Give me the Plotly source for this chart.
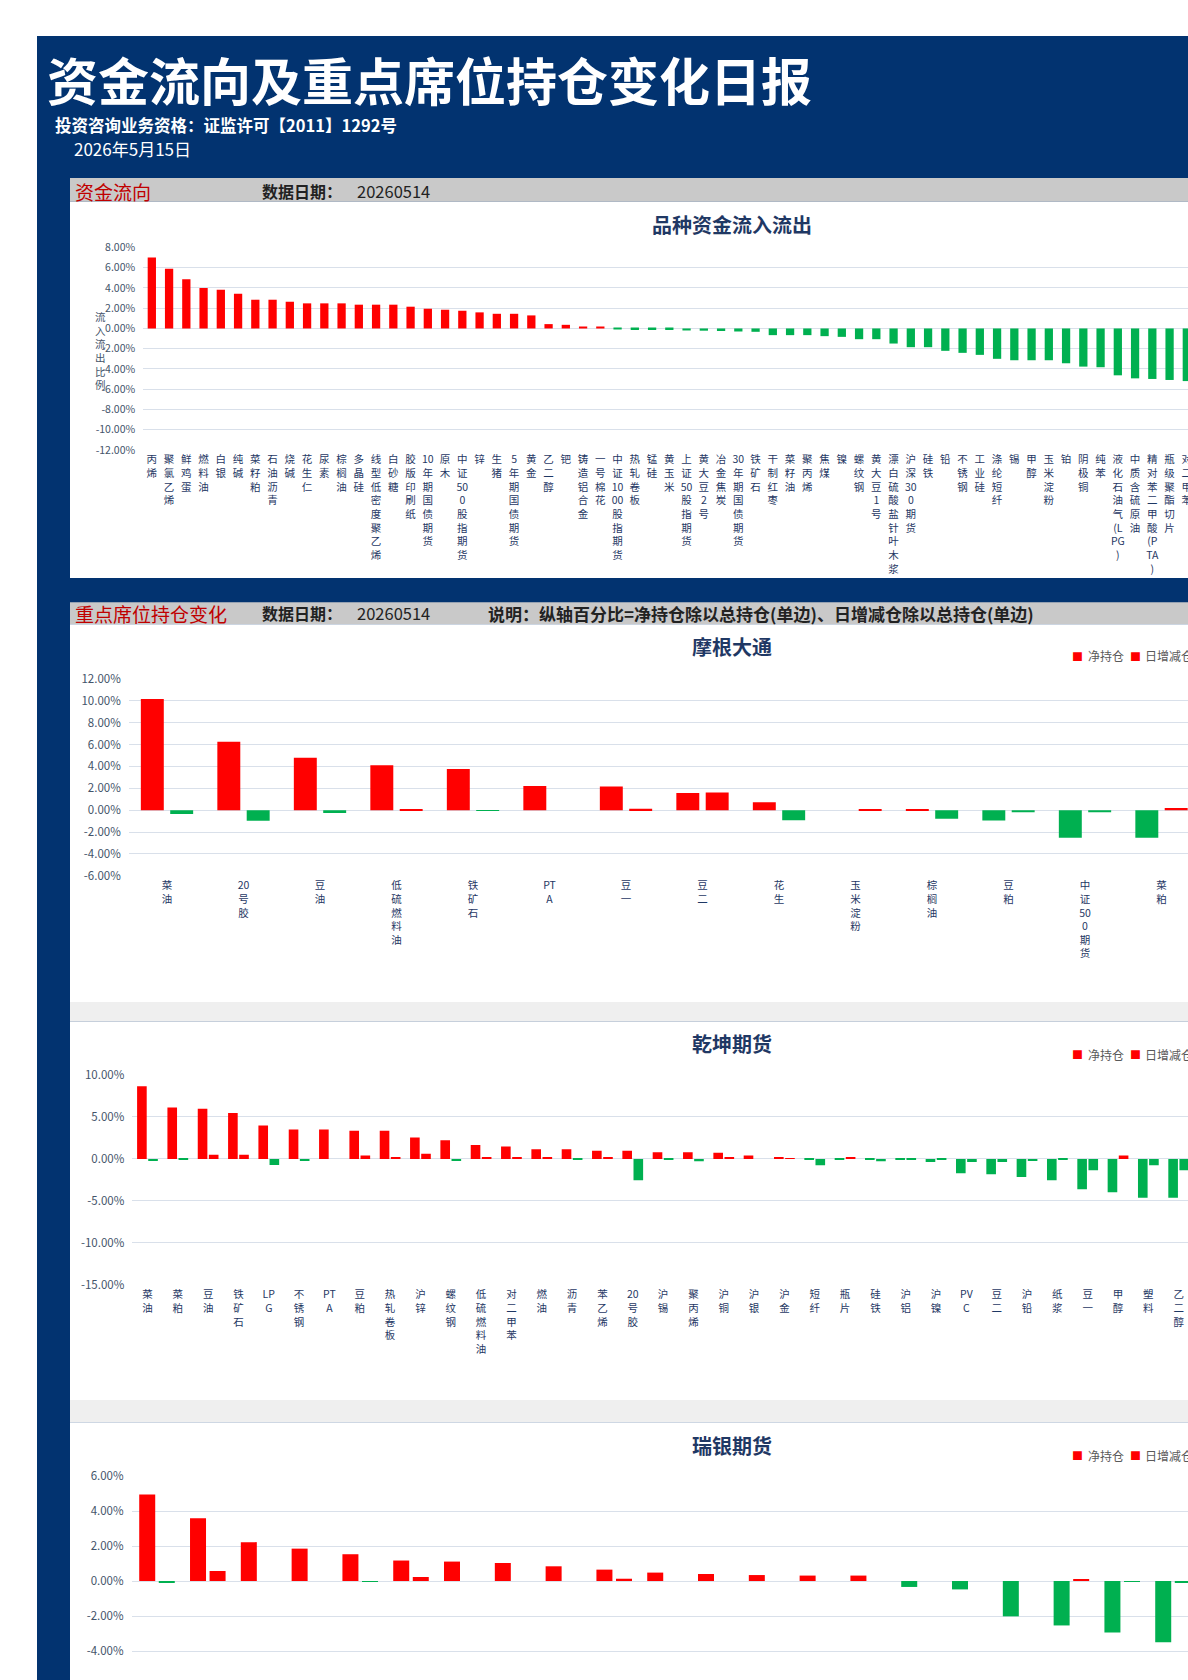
import plotly.graph_objects as go

W, H = 1188, 1680
FONT = "Noto Sans CJK SC"
RED, GREEN = "#ff0000", "#00b050"
NAVY = "#023370"
HEADER_GREY = "#c9c9c9"
BAND_GREY = "#efefef"
GRID = "#d9e0ea"
TICK_COLOR = "#44546a"
CAT_COLOR = "#1f3864"
TITLE_COLOR = "#1f3864"

# ---------------- data ----------------
flow_cats = ["丙烯", "聚氯乙烯", "鲜鸡蛋", "燃料油", "白银", "纯碱", "菜籽粕", "石油沥青", "烧碱", "花生仁",
             "尿素", "棕榈油", "多晶硅", "线型低密度聚乙烯", "白砂糖", "胶版印刷纸", "10年期国债期货", "原木",
             "中证500股指期货", "锌", "生猪", "5年期国债期货", "黄金", "乙二醇", "钯", "铸造铝合金", "一号棉花",
             "中证1000股指期货", "热轧卷板", "锰硅", "黄玉米", "上证50股指期货", "黄大豆2号", "冶金焦炭",
             "30年期国债期货", "铁矿石", "干制红枣", "菜籽油", "聚丙烯", "焦煤", "镍", "螺纹钢", "黄大豆1号",
             "漂白硫酸盐针叶木浆", "沪深300期货", "硅铁", "铅", "不锈钢", "工业硅", "涤纶短纤", "锡", "甲醇",
             "玉米淀粉", "铂", "阴极铜", "纯苯", "液化石油气(LPG)", "中质含硫原油", "精对苯二甲酸(PTA)",
             "瓶级聚酯切片", "对二甲苯"]
flow_vals = [7.00, 5.90, 4.86, 4.00, 3.83, 3.44, 2.84, 2.84, 2.64, 2.48,
             2.48, 2.48, 2.35, 2.35, 2.35, 2.15, 1.95, 1.85, 1.75, 1.59,
             1.45, 1.45, 1.29, 0.43, 0.36, 0.10, 0.10, -0.10, -0.15, -0.15,
             -0.15, -0.20, -0.22, -0.25, -0.30, -0.33, -0.66, -0.66, -0.66, -0.76,
             -0.83, -1.06, -1.06, -1.49, -1.85, -1.85, -2.21, -2.41, -2.61, -3.00,
             -3.14, -3.14, -3.14, -3.44, -3.77, -3.83, -4.63, -4.93, -4.99, -5.09, -5.20]
flow_yticks = [8, 6, 4, 2, 0, -2, -4, -6, -8, -10, -12]

mg_cats = ["菜油", "20号胶", "豆油", "低硫燃料油", "铁矿石", "PTA", "豆一", "豆二", "花生", "玉米淀粉",
           "棕榈油", "豆粕", "中证500期货", "菜粕"]
mg_net = [10.17, 6.26, 4.79, 4.12, 3.76, 2.20, 2.16, 1.56, 0.73, 0.00, 0.10, -0.95, -2.53, -2.53]
mg_chg = [-0.34, -0.98, -0.27, 0.05, -0.05, 0.00, 0.12, 1.62, -0.92, 0.10, -0.79, -0.20, -0.20, 0.20]
mg_yticks = [12, 10, 8, 6, 4, 2, 0, -2, -4, -6]

qk_cats = ["菜油", "菜粕", "豆油", "铁矿石", "LPG", "不锈钢", "PTA", "豆粕", "热轧卷板", "沪锌", "螺纹钢",
           "低硫燃料油", "对二甲苯", "燃油", "沥青", "苯乙烯", "20号胶", "沪锡", "聚丙烯", "沪铜", "沪银",
           "沪金", "短纤", "瓶片", "硅铁", "沪铝", "沪镍", "PVC", "豆二", "沪铅", "纸浆", "豆一", "甲醇",
           "塑料", "乙二醇"]
qk_net = [8.65, 6.14, 5.98, 5.46, 3.98, 3.50, 3.50, 3.35, 3.35, 2.55, 2.23, 1.67, 1.47, 1.16, 1.16,
          0.96, 0.96, 0.80, 0.80, 0.72, 0.40, 0.24, -0.08, -0.08, -0.10, -0.08, -0.36, -1.71, -1.83,
          -2.15, -2.55, -3.63, -3.98, -4.62, -4.62]
qk_chg = [-0.24, -0.08, 0.48, 0.48, -0.72, -0.24, 0.00, 0.40, 0.24, 0.60, -0.24, 0.12, 0.12, 0.20, -0.08,
          0.20, -2.55, -0.10, -0.28, 0.24, 0.00, 0.10, -0.76, 0.24, -0.28, -0.08, -0.10, -0.36, -0.36,
          -0.24, -0.08, -1.35, 0.40, -0.76, -1.35]
qk_yticks = [10, 5, 0, -5, -10, -15]

ub_cats = ["沪金", "豆油", "铁矿石", "沪银", "棕榈油", "螺纹钢", "PTA", "豆粕", "菜油", "沪铜", "沪铝",
           "沪锌", "甲醇", "聚丙烯", "塑料", "中证500期货", "沪深300期货", "中证1000期货", "上证50期货",
           "十年期国债", "五年期国债"]
ub_net = [4.95, 3.59, 2.22, 1.85, 1.53, 1.17, 1.11, 1.03, 0.84, 0.65, 0.48, 0.40, 0.34, 0.31, 0.31,
          -0.34, -0.48, -2.02, -2.54, -2.94, -3.50]
ub_chg = [-0.11, 0.57, 0.00, 0.00, -0.05, 0.23, 0.00, 0.00, 0.00, 0.13, 0.00, 0.00, 0.00, 0.00, 0.00,
          0.00, 0.00, 0.00, 0.11, -0.05, -0.10]
ub_yticks = [6, 4, 2, 0, -2, -4, -6]

# ---------------- helpers ----------------
def fx(x):
    return x / W

def fy(y):
    return 1 - y / H

def vert(s):
    """Stack text vertically: one CJK char per line, ASCII runs in pairs."""
    lines, run = [], ""
    for ch in s:
        if ord(ch) < 128:
            run += ch
            if len(run) == 2:
                lines.append(run)
                run = ""
        else:
            if run:
                lines.append(run)
                run = ""
            lines.append(ch)
    if run:
        lines.append(run)
    return "<br>".join(lines)

def colors(vals):
    return [RED if v >= 0 else GREEN for v in vals]

fig = go.Figure()

# chart 1 : single series
fig.add_trace(go.Bar(x=flow_cats, y=flow_vals, marker=dict(color=colors(flow_vals), line=dict(width=0)),
                     width=0.48, offset=-0.24, xaxis="x", yaxis="y", showlegend=False))

# grouped charts
groups = [
    ("2", mg_cats, mg_net, mg_chg, 0.30, 0.084),
    ("3", qk_cats, qk_net, qk_chg, 0.317, 0.05),
    ("4", ub_cats, ub_net, ub_chg, 0.315, 0.07),
]
for ax, cats, net, chg, w, gap in groups:
    fig.add_trace(go.Bar(x=cats, y=net, name="净持仓", marker=dict(color=colors(net), line=dict(width=0)),
                         width=w, offset=-(gap / 2 + w), xaxis="x" + ax, yaxis="y" + ax, showlegend=False))
    fig.add_trace(go.Bar(x=cats, y=chg, name="日增减仓", marker=dict(color=colors(chg), line=dict(width=0)),
                         width=w, offset=gap / 2, xaxis="x" + ax, yaxis="y" + ax, showlegend=False))

# ---------------- axes ----------------
def xaxis_cfg(cats, left_px, step_px, anchor, size):
    rmax = (W - left_px) / step_px - 0.5
    return dict(type="category", domain=[fx(left_px), 1], range=[-0.5, rmax], anchor=anchor,
                showgrid=False, showline=False, zeroline=False, ticks="", tickangle=0,
                tickmode="array", tickvals=cats, ticktext=[vert(c) for c in cats],
                tickfont=dict(family=FONT, size=size, color=CAT_COLOR), automargin=False,
                fixedrange=True, ticklabelstandoff=2)

def yaxis_cfg(ticks, top_px, top_val, px_per_unit, bottom_val, anchor, size, bottom_px=None):
    if bottom_px is None:
        bottom_px = top_px + (top_val - bottom_val) * px_per_unit
    else:
        bottom_val = top_val - (bottom_px - top_px) / px_per_unit
    return dict(domain=[fy(bottom_px), fy(top_px)], range=[bottom_val, top_val], anchor=anchor,
                tickmode="array", tickvals=ticks, ticktext=[f"{t:.2f}%" for t in ticks],
                showgrid=True, gridcolor=GRID, gridwidth=1, zeroline=False, showline=False, ticks="",
                tickfont=dict(family=FONT, size=size, color=TICK_COLOR), automargin=False,
                fixedrange=True, ticklabelstandoff=7)

layout_axes = dict(
    xaxis=xaxis_cfg(flow_cats, 143.2, 17.25, "y", 10.5),
    yaxis=yaxis_cfg(flow_yticks, 247.5, 8, 10.12, -12, "x", 10.5),
    xaxis2=xaxis_cfg(mg_cats, 128.75, 76.5, "y2", 10.5),
    yaxis2=yaxis_cfg(mg_yticks, 679, 12, 10.93, -6, "x2", 11.5),
    xaxis3=xaxis_cfg(qk_cats, 132.3, 30.33, "y3", 10.5),
    yaxis3=yaxis_cfg(qk_yticks, 1075, 10, 8.39, -15, "x3", 11.5),
    xaxis4=xaxis_cfg(ub_cats, 131.6, 50.8, "y4", 10.5),
    yaxis4=yaxis_cfg(ub_yticks, 1476, 6, 17.5, -6, "x4", 11.5, bottom_px=H),
)

# ---------------- background shapes ----------------
def rect(x0, y0, x1, y1, color):
    return dict(type="rect", xref="paper", yref="paper", x0=fx(x0), x1=fx(x1), y0=fy(y1), y1=fy(y0),
                fillcolor=color, line=dict(width=0), layer="below")

shapes = [
    rect(37, 36, W, H, NAVY),
    rect(70, 178, W, 201.7, HEADER_GREY),
    rect(70, 201.7, W, 578, "#ffffff"),
    rect(70, 602.3, W, 624.3, HEADER_GREY),
    rect(70, 624.3, W, 1002, "#ffffff"),
    rect(70, 1002, W, 1021.7, BAND_GREY),
    rect(70, 1021.7, W, 1400, "#ffffff"),
    rect(70, 1400, W, 1422.3, BAND_GREY),
    rect(70, 1422.3, W, H, "#ffffff"),
]

# ---------------- annotations ----------------
def text(x, y, s, size, color, anchor="left", bold=False):
    return dict(xref="paper", yref="paper", x=fx(x), y=fy(y), text=(f"<b>{s}</b>" if bold else s),
                showarrow=False, xanchor=anchor, yanchor="middle",
                font=dict(family=FONT, size=size, color=color), borderpad=0)

def legend(y):
    return [
        text(1077.5, y, "■", 11, RED, anchor="center"),
        text(1087, y, "净持仓", 12, "#595959"),
        text(1135.5, y, "■", 11, RED, anchor="center"),
        text(1144, y, "日增减仓", 12, "#595959"),
    ]

annotations = [
    text(46, 79, "资金流向及重点席位持仓变化日报", 51, "#ffffff", bold=True),
    text(54, 125, "投资咨询业务资格：证监许可【2011】1292号", 16.5, "#ffffff", bold=True),
    text(73, 148, "2026年5月15日", 17, "#ffffff"),
    # section 1 header
    text(74, 191, "资金流向", 19, "#c00000"),
    text(261, 191, "数据日期：", 16, "#222222", bold=True),
    text(356, 191, "20260514", 16.5, "#222222"),
    # section 2 header
    text(74, 613.5, "重点席位持仓变化", 19, "#c00000"),
    text(261, 613.5, "数据日期：", 16, "#222222", bold=True),
    text(356, 613.5, "20260514", 16.5, "#222222"),
    text(487, 613.5, "说明：纵轴百分比=净持仓除以总持仓(单边)、日增减仓除以总持仓(单边)", 17, "#222222", bold=True),
    # chart titles
    text(732, 225, "品种资金流入流出", 20, TITLE_COLOR, anchor="center", bold=True),
    text(732, 647, "摩根大通", 20, TITLE_COLOR, anchor="center", bold=True),
    text(732, 1043, "乾坤期货", 20, TITLE_COLOR, anchor="center", bold=True),
    text(732, 1445, "瑞银期货", 20, TITLE_COLOR, anchor="center", bold=True),
    # y-axis title chart 1
    text(100, 350, vert("流入流出比例"), 10.5, TICK_COLOR, anchor="center"),
] + legend(656) + legend(1054) + legend(1455)

fig.update_layout(
    width=W, height=H, margin=dict(l=0, r=0, t=0, b=0, pad=0),
    template="none",
    paper_bgcolor="#ffffff", plot_bgcolor="rgba(0,0,0,0)",
    barmode="overlay", showlegend=False,
    font=dict(family=FONT, size=11, color=TICK_COLOR),
    shapes=shapes, annotations=annotations,
    **layout_axes,
)

fig.write_html("out.html", config={"displayModeBar": False},
               post_script="document.body.style.margin='0';document.body.style.overflow='hidden';")
